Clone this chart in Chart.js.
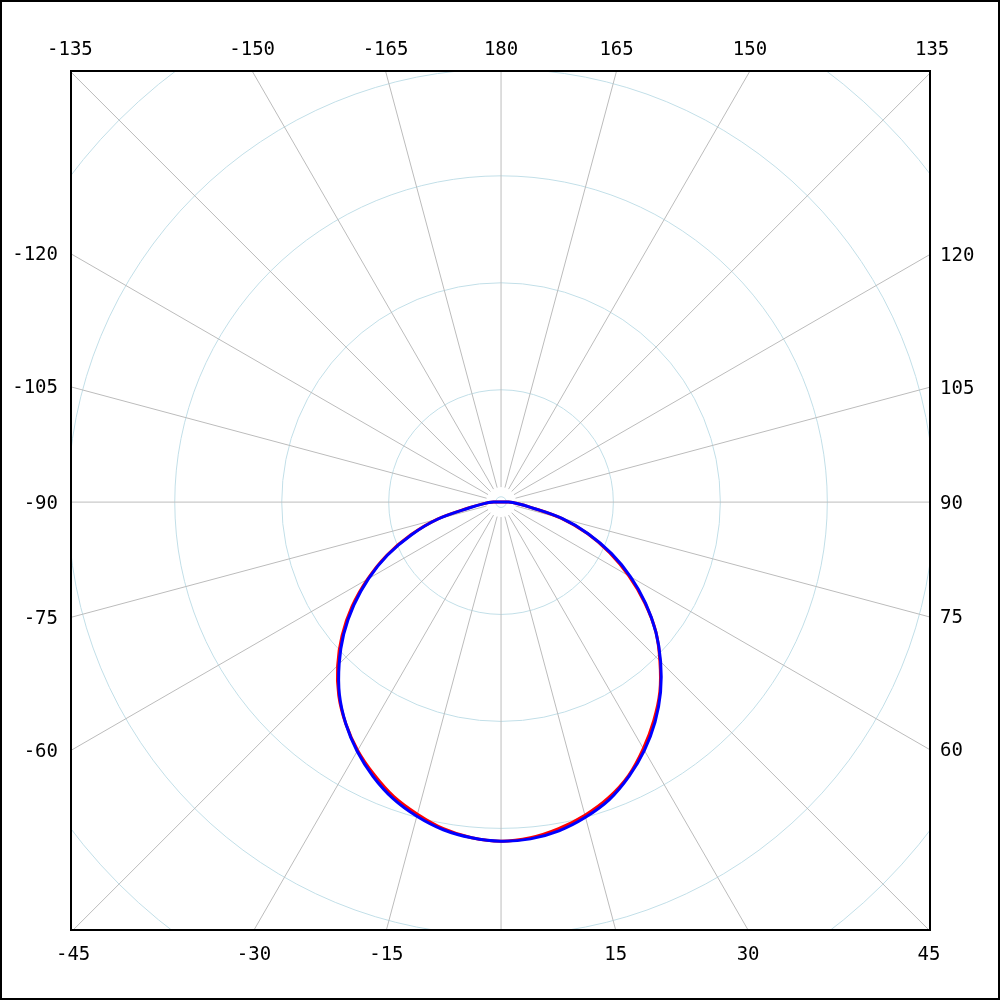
<!DOCTYPE html>
<html lang="en">
<head>
    <meta charset="UTF-8">
    <title>Polar pattern</title>
    <script src="https://cdn.jsdelivr.net/npm/chart.js"></script>
    <style>
        html, body { margin: 0; padding: 0; background: #fff; }
    </style>
</head>
<body>
    <canvas id="polarChart" width="1000" height="1000"></canvas>

    <script>
        // angle in degrees: 0 points down, 90 right, 180 up, -90 left
        const angles = [-180, -135, -90, -85, -80, -75, -70, -65, -60, -55, -50, -45, -40, -35, -30, -25, -20, -15, -10, -5,
                        0, 5, 10, 15, 20, 25, 30, 35, 40, 45, 50, 55, 60, 65, 70, 75, 80, 85, 90, 135, 180];
        const blueValues = [-0.05, -0.05, 0.02, 0.11, 0.24, 0.56, 0.84, 1.12, 1.38, 1.63, 1.87, 2.09, 2.30, 2.48, 2.64, 2.78, 2.90, 2.99, 3.06, 3.10,
                            3.12, 3.11, 3.07, 3.00, 2.91, 2.78, 2.63, 2.46, 2.27, 2.06, 1.84, 1.60, 1.35, 1.09, 0.82, 0.54, 0.23, 0.10, 0.02, -0.05, -0.05];
        const redValues  = [-0.05, -0.05, 0.02, 0.11, 0.25, 0.57, 0.85, 1.13, 1.39, 1.65, 1.89, 2.11, 2.31, 2.48, 2.63, 2.76, 2.88, 2.97, 3.05, 3.10,
                            3.12, 3.10, 3.05, 2.98, 2.89, 2.77, 2.61, 2.44, 2.26, 2.05, 1.84, 1.59, 1.33, 1.07, 0.81, 0.53, 0.23, 0.10, 0.02, -0.05, -0.05];

        // radial grid rings and the value at the centre of the plot
        const ringValues = [0, 1, 2, 3, 4, 5, 6];
        const R_MIN = -0.05;
        const SPOKE_START = 0.09;

        const spokeAngles = [-165, -150, -135, -120, -105, -90, -75, -60, -45, -30, -15, 0,
                             15, 30, 45, 60, 75, 90, 105, 120, 135, 150, 165, 180];
        const spokeLabels = ['-165', '-150', '-135', '-120', '-105', '-90', '-75', '-60', '-45', '-30', '-15', '',
                             '15', '30', '45', '60', '75', '90', '105', '120', '135', '150', '165', '180'];

        function toXY(deg, v) {
            const d = v - R_MIN;
            const a = deg * Math.PI / 180;
            return { x: d * Math.sin(a), y: -d * Math.cos(a) };
        }

        const polarGrid = {
            id: 'polarGrid',
            beforeDatasetsDraw(chart) {
                const { ctx, chartArea: area, scales: { x, y } } = chart;
                const cx = x.getPixelForValue(0);
                const cy = y.getPixelForValue(0);
                const unit = x.getPixelForValue(1) - cx;

                ctx.save();
                ctx.beginPath();
                ctx.rect(area.left, area.top, area.right - area.left, area.bottom - area.top);
                ctx.clip();

                // rings
                ctx.strokeStyle = '#c2dfe8';
                ctx.lineWidth = 1;
                ringValues.forEach(v => {
                    ctx.beginPath();
                    ctx.arc(cx, cy, (v - R_MIN) * unit, 0, Math.PI * 2);
                    ctx.stroke();
                });

                // spokes
                ctx.strokeStyle = '#bcbcbc';
                spokeAngles.forEach(deg => {
                    const a = deg * Math.PI / 180;
                    const r0 = (SPOKE_START - R_MIN) * unit;
                    const r1 = 2000;
                    ctx.beginPath();
                    ctx.moveTo(cx + r0 * Math.sin(a), cy + r0 * Math.cos(a));
                    ctx.lineTo(cx + r1 * Math.sin(a), cy + r1 * Math.cos(a));
                    ctx.stroke();
                });
                ctx.restore();
            },
            afterDraw(chart) {
                const { ctx, chartArea: area, scales: { x, y } } = chart;
                const cx = x.getPixelForValue(0);
                const cy = y.getPixelForValue(0);

                ctx.save();
                ctx.strokeStyle = '#000';
                ctx.lineWidth = 2;
                ctx.strokeRect(area.left, area.top, area.right - area.left, area.bottom - area.top);
                ctx.strokeRect(1, 1, chart.width - 2, chart.height - 2);

                // angle labels where each spoke meets the frame
                ctx.fillStyle = '#000';
                ctx.font = '19px "DejaVu Sans Mono", monospace';
                ctx.textBaseline = 'middle';
                spokeAngles.forEach((deg, i) => {
                    const label = spokeLabels[i];
                    if (!label) return;
                    const a = deg * Math.PI / 180;
                    const sx = Math.sin(a), sy = Math.cos(a);
                    if (Math.abs(sy) >= Math.abs(sx) - 1e-9) {
                        const edge = sy < 0 ? area.top : area.bottom;
                        const t = (edge - cy) / sy;
                        ctx.textAlign = 'center';
                        ctx.fillText(label, cx + t * sx, sy < 0 ? edge - 21 : edge + 25);
                    } else {
                        const edge = sx < 0 ? area.left : area.right;
                        const t = (edge - cx) / sx;
                        ctx.textAlign = sx < 0 ? 'right' : 'left';
                        ctx.fillText(label, sx < 0 ? edge - 13 : edge + 10, cy + t * sy + 1.5);
                    }
                });
                ctx.restore();
            }
        };

        const ctx = document.getElementById('polarChart').getContext('2d');
        const chart = new Chart(ctx, {
            type: 'scatter',
            data: {
                datasets: [{
                    label: 'blue',
                    data: angles.map((a, i) => toXY(a, blueValues[i])),
                    showLine: true,
                    borderColor: '#0000ff',
                    borderWidth: 3,
                    pointRadius: 0,
                    tension: 0.35
                }, {
                    label: 'red',
                    data: angles.map((a, i) => toXY(a, redValues[i])),
                    showLine: true,
                    borderColor: '#ff0000',
                    borderWidth: 3,
                    pointRadius: 0,
                    tension: 0.35
                }]
            },
            options: {
                responsive: false,
                animation: false,
                devicePixelRatio: 1,
                layout: { padding: { left: 71, top: 71, right: 70, bottom: 70 } },
                scales: {
                    x: { type: 'linear', min: -4.02, max: 4.01, display: false },
                    y: { type: 'linear', min: -4.0, max: 4.03, display: false }
                },
                plugins: {
                    legend: { display: false },
                    tooltip: { enabled: false }
                }
            },
            plugins: [polarGrid]
        });
    </script>
</body>
</html>
